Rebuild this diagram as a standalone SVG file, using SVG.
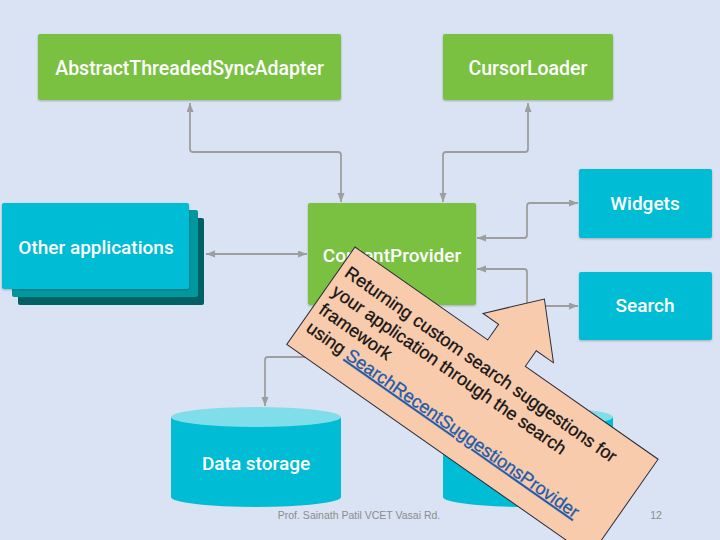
<svg xmlns="http://www.w3.org/2000/svg" width="720" height="540" viewBox="0 0 720 540">
<style>
.lbl{font-family:Roboto,"Liberation Sans",sans-serif;font-weight:500;fill:#fff;text-anchor:middle}
.green{fill:#7ac143}
.cyan{fill:#00bcd4}
.conn{fill:none;stroke:#9e9e9e;stroke-width:1.8;marker-start:url(#ah);marker-end:url(#ah)}
.ct{font-family:"Liberation Sans",Arial,sans-serif;font-size:18px;fill:#141414;stroke:#141414;stroke-width:0.3}
.foot{font-family:"Liberation Sans",Arial,sans-serif;font-size:10.5px;fill:#8c8c8c;text-anchor:middle}
</style>
<defs>
<marker id="ah" markerUnits="userSpaceOnUse" markerWidth="10" markerHeight="8" refX="9" refY="3.5" orient="auto-start-reverse">
<path d="M0,0 L9,3.5 L0,7 Z" fill="#9e9e9e"/>
</marker>
<filter id="sh" x="-5%" y="-5%" width="110%" height="120%">
<feDropShadow dx="0" dy="1" stdDeviation="1" flood-color="#000" flood-opacity="0.25"/>
</filter>
</defs>
<rect width="720" height="540" fill="#dae3f3"/>

<g id="connectors">
<path class="conn" d="M190,103 V149 Q190,152 193,152 H338 Q341,152 341,155 V202"/>
<path class="conn" d="M528,103 V149 Q528,152 525,152 H446 Q443,152 443,155 V202"/>
<path class="conn" d="M206,254 H307"/>
<path class="conn" d="M477,238 H524 Q527,238 527,235 V206 Q527,203 530,203 H578"/>
<path class="conn" d="M477,269 H524 Q527,269 527,272 V303 Q527,306 530,306 H578"/>
<path class="conn" d="M265,406 V360 Q265,357 268,357 H389 Q392,357 392,354 V306"/>
</g>

<g id="abstract-threaded-sync-adapter">
<rect class="green" x="38" y="34" width="303" height="66" rx="2" filter="url(#sh)"/>
<text class="lbl" x="189.5" y="74.5" font-size="19.5">AbstractThreadedSyncAdapter</text>
</g>
<g id="cursor-loader">
<rect class="green" x="443" y="34" width="170" height="66" rx="2" filter="url(#sh)"/>
<text class="lbl" x="528" y="74.5" font-size="19.5">CursorLoader</text>
</g>
<g id="content-provider">
<rect class="green" x="308" y="203" width="168" height="102" rx="2" filter="url(#sh)"/>
<text class="lbl" x="392" y="262" font-size="19">ContentProvider</text>
</g>
<g id="other-applications">
<rect x="18" y="218" width="186" height="87" rx="2" fill="#006064"/>
<rect x="12" y="210" width="186" height="87" rx="2" fill="#00979f"/>
<rect class="cyan" x="2" y="203" width="187" height="86" rx="2" filter="url(#sh)"/>
<text class="lbl" x="96" y="254" font-size="19">Other applications</text>
</g>
<g id="widgets">
<rect class="cyan" x="579" y="169" width="133" height="69" rx="2" filter="url(#sh)"/>
<text class="lbl" x="645" y="210" font-size="19">Widgets</text>
</g>
<g id="search">
<rect class="cyan" x="579" y="272" width="133" height="68" rx="2" filter="url(#sh)"/>
<text class="lbl" x="645" y="312" font-size="19">Search</text>
</g>
<g id="data-storage">
<path class="cyan" d="M171,417 V497 A85,10 0 0 0 341,497 V417 Z"/>
<ellipse cx="256" cy="417" rx="85" ry="10" fill="#80deea"/>
<text class="lbl" x="256" y="470" font-size="19">Data storage</text>
</g>
<g id="storage-2">
<path class="cyan" d="M443,417 V497 A85,10 0 0 0 613,497 V417 Z"/>
<ellipse cx="528" cy="417" rx="85" ry="10" fill="#80deea"/>
</g>

<g id="callout" transform="translate(355,247) rotate(35)">
<path d="M0,0 H162 V-19 H143 L185,-66 L229,-19 H208 V0 H370 V119 H0 Z" fill="#f8cbad" stroke="#2b2b3b" stroke-width="1"/>
<text class="ct" x="7" y="30">Returning custom search suggestions for</text>
<text class="ct" x="7" y="52.5">your application through the search</text>
<text class="ct" x="7" y="75">framework</text>
<text class="ct" x="7" y="97">using <tspan fill="#1f5ba8" stroke="#1f5ba8" text-decoration="underline">SearchRecentSuggestionsProvider</tspan></text>
</g>

<text class="foot" x="359" y="519">Prof. Sainath Patil VCET Vasai Rd.</text>
<text class="foot" x="656" y="519" font-size="12">12</text>
</svg>
